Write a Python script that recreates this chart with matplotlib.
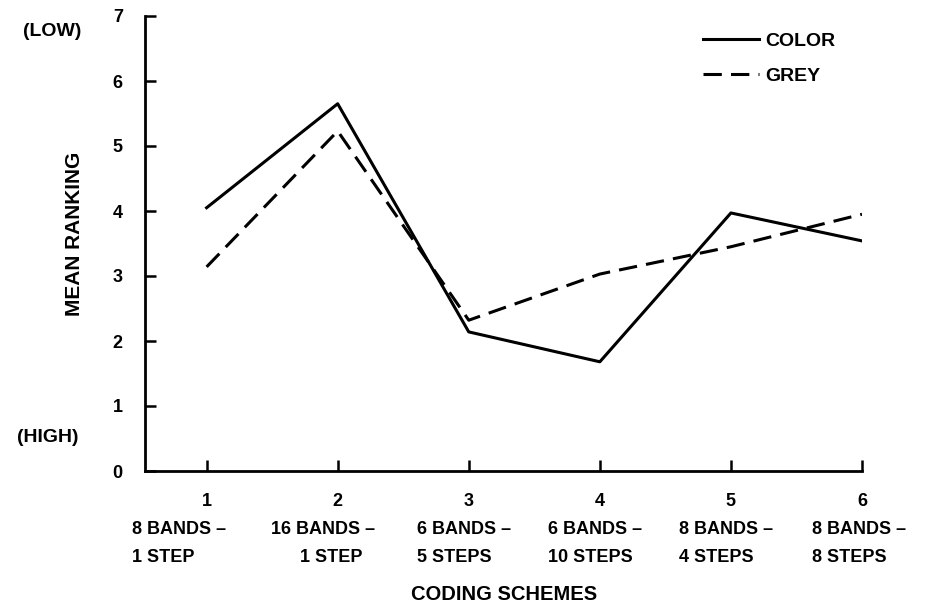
import matplotlib

matplotlib.use("Agg")

import matplotlib.pyplot as plt

schemes = [1, 2, 3, 4, 5, 6]
bands_labels = ["8 BANDS \u2013", "16 BANDS \u2013", "6 BANDS \u2013",
                "6 BANDS \u2013", "8 BANDS \u2013", "8 BANDS \u2013"]
steps_labels = ["1 STEP", "1 STEP", "5 STEPS", "10 STEPS", "4 STEPS", "8 STEPS"]
color_rank = [4.05, 5.65, 2.14, 1.68, 3.97, 3.54]
grey_rank = [3.14, 5.23, 2.32, 3.03, 3.45, 3.95]

# pixel offsets of the two label lines from each tick (layout only)
bands_dx = [-75, -67, -52, -52, -52, -50]
steps_dx = [-75, -38, -52, -52, -52, -50]

W, H = 944, 616
FAM = ["Liberation Sans", "DejaVu Sans"]
txt = dict(family=FAM, fontweight="bold")

fig = plt.figure(figsize=(W / 100, H / 100), dpi=100)
ax = fig.add_axes([145 / W, 1 - 471 / H, (862 - 145) / W, (471 - 16) / H])

ax.plot(schemes, color_rank, color="black", lw=2.2, label="COLOR")
ax.plot(schemes, grey_rank, color="black", lw=2.2, dashes=(6, 3), label="GREY")

ax.set_xlim(0.53, 6)
ax.set_ylim(0, 7)
ax.set_yticks(range(8))
ax.set_xticks(schemes)
for s in ["top", "right"]:
    ax.spines[s].set_visible(False)
for s in ["left", "bottom"]:
    ax.spines[s].set_linewidth(2)
ax.tick_params(direction="in", length=8, width=1.8, labelsize=13)
ax.tick_params(axis="y", pad=16)
ax.tick_params(axis="x", pad=16)
for lab in ax.get_xticklabels() + ax.get_yticklabels():
    lab.set_fontweight("bold")
    lab.set_family(FAM)

for x, b, s, db, ds in zip(schemes, bands_labels, steps_labels, bands_dx, steps_dx):
    ax.annotate(b, xy=(x, 0), xycoords=ax.get_xaxis_transform(),
                xytext=(db, -59), textcoords="offset pixels",
                ha="left", va="center", fontsize=13, **txt)
    ax.annotate(s, xy=(x, 0), xycoords=ax.get_xaxis_transform(),
                xytext=(ds, -86), textcoords="offset pixels",
                ha="left", va="center", fontsize=13, **txt)


def ftext(x, y, s, **kw):
    fig.text(x / W, 1 - y / H, s, ha="center", va="center", **kw)


ftext(504, 595, "CODING SCHEMES", fontsize=14.5, **txt)
ftext(75, 234, "MEAN RANKING", rotation=90, fontsize=15, **txt)
ftext(52, 32, "(LOW)", fontsize=14, **txt)
ftext(48, 437, "(HIGH)", fontsize=14, **txt)

ax.legend(loc="upper left", bbox_to_anchor=(703 / W, 1 - 32 / H),
          bbox_transform=fig.transFigure, frameon=False, borderpad=0,
          borderaxespad=0, handlelength=2.9, handletextpad=0.3,
          labelspacing=0.9, prop=dict(family=FAM, weight="bold", size=14))

fig.savefig("out.png", dpi=100)
plt.close(fig)
